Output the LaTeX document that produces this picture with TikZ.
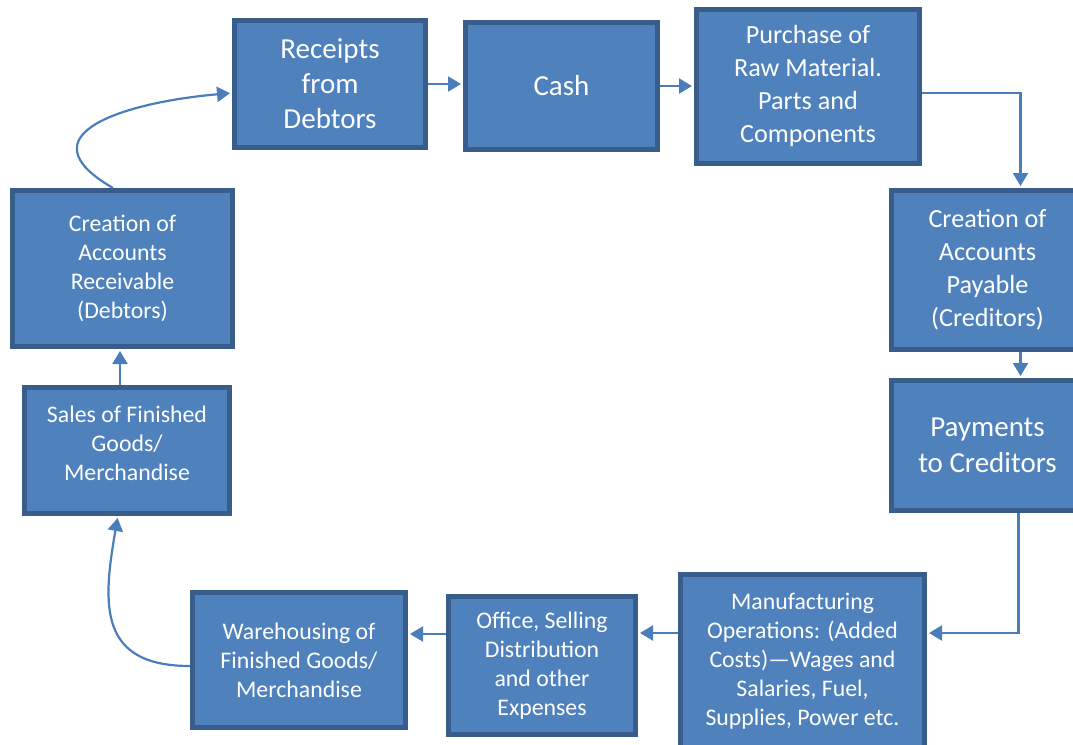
\documentclass[tikz,border=0pt]{standalone}
\usepackage{fontspec}
\setmainfont{Carlito}
\usetikzlibrary{positioning, arrows.meta}
\definecolor{boxfill}{HTML}{4F81BD}
\definecolor{boxline}{HTML}{385D8A}
\definecolor{flowline}{HTML}{4A7EBB}
\newcommand{\smalltxt}{\fontsize{23.8}{29}\selectfont}
\newcommand{\midtxt}{\fontsize{26.2}{33}\selectfont}
\newcommand{\bigtxt}{\fontsize{29}{35}\selectfont}

\begin{document}
\begin{tikzpicture}[x=1pt, y=-1pt,
		stage/.style={rectangle, draw=boxline, fill=boxfill, line width=5pt, text=white, align=center, inner sep=0pt},
		flow/.style={-{Triangle[length=13pt, width=15pt]}, draw=flowline, line width=2.2pt, shorten >=2pt}]
		
		\useasboundingbox (0,0) rectangle (1073,744);
		
		% top row
		\node[stage, font=\bigtxt, minimum width=191pt, minimum height=127pt] (receipts) at (330,84) {Receipts\\from\\Debtors};
		\node[stage, font=\bigtxt, minimum width=192pt, minimum height=127pt] (cash) at (561.5,86) {Cash};
		\node[stage, font=\midtxt, minimum width=223pt, minimum height=154pt] (purchase) at (808,86.5) {Purchase of\\Raw Material.\\Parts and\\Components};
		
		% right column
		\node[stage, font=\midtxt, minimum width=192pt, minimum height=159pt] (acc-pay) at (987.5,270) {Creation of\\Accounts\\Payable\\(Creditors)};
		\node[stage, font=\fontsize{29}{36}\selectfont, minimum width=192pt, minimum height=130pt] (payments) at (987.5,445.5) {Payments\\to Creditors};
		
		% bottom row
		\node[stage, font=\smalltxt, minimum width=244pt, minimum height=173pt] (manuf) at (802.5,661) {Manufacturing\\Operations: (Added\\Costs)\textemdash Wages and\\Salaries, Fuel,\\Supplies, Power etc.};
		\node[stage, font=\smalltxt, minimum width=187pt, minimum height=138pt] (office) at (542,665.5) {Office, Selling\\Distribution\\and other\\Expenses};
		\node[stage, font=\smalltxt, minimum width=213pt, minimum height=135pt] (warehouse) at (299,660) {Warehousing of\\Finished Goods/\\Merchandise};
		
		% left column
		\node[stage, font=\smalltxt, minimum width=205pt, minimum height=126pt] (sales) at (127,450.5) {Sales of Finished\\Goods/\\Merchandise\\[-15pt]};
		\node[stage, font=\smalltxt, minimum width=220pt, minimum height=156pt] (acc-rec) at (122.5,268.5) {Creation of\\Accounts\\Receivable\\(Debtors)};
		
		\draw[flow] (receipts.east) -- (receipts.east -| cash.west);
		\draw[flow] (cash.east) -- (cash.east -| purchase.west);
		\draw[flow] ([yshift=-6.5pt]purchase.east) -| ([xshift=33pt]acc-pay.north);
		\draw[flow] ([xshift=33pt]acc-pay.south) -- ([xshift=33pt]payments.north);
		\draw[flow] ([xshift=31pt]payments.south) |- ([yshift=28pt]manuf.east);
		\draw[flow] ([yshift=28pt]manuf.west) -- ([yshift=28pt]manuf.west -| office.east);
		\draw[flow] ([yshift=31.5pt]office.west) -- ([yshift=31.5pt]office.west -| warehouse.east);
		\draw[flow] ([yshift=-6pt]warehouse.west) to[out=180, in=-100, looseness=1.4] ([xshift=-9pt]sales.south);
		\draw[flow] ([xshift=-7pt]sales.north) -- ([xshift=-7pt]sales.north |- acc-rec.south);
		\draw[flow] ([xshift=-9.5pt]acc-rec.north) to[out=150, in=185, looseness=1.8] ([yshift=-9pt]receipts.west);
		
	\end{tikzpicture}
\end{document}
